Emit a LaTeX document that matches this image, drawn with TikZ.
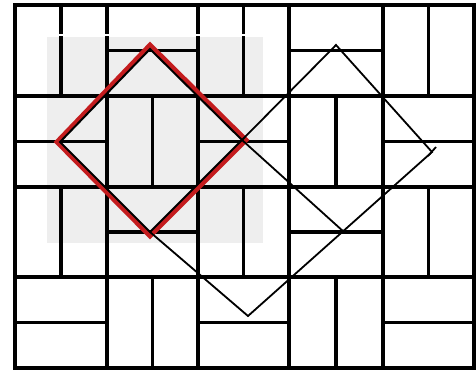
\documentclass[tikz,border=0pt]{standalone}
\begin{document}
\begin{tikzpicture}[x=0.5pt,y=-0.5pt,
  gridline/.style={line width=1.6pt,line cap=rect},
  frameline/.style={line width=1.8pt},
  thinline/.style={line width=0.9pt,line join=miter},
  redline/.style={line width=2.4pt,draw={rgb,255:red,196;green,28;blue,30},line join=miter},
  blackred/.style={line width=1pt,line join=miter}]
\useasboundingbox (0,0) rectangle (476,370);
\fill[white] (0,0) rectangle (476,370);
% gray pasted square
\fill[gray!13] (47,37) rectangle (263,243);
% grid
\def\xs{{15,107,198,289,383,474}}
\def\ys{{5,96,187,277,368}}
\foreach \r in {0,...,3}{
  \foreach \c in {0,...,4}{
    \pgfmathsetmacro{\xa}{\xs[\c]}
    \pgfmathsetmacro{\xb}{\xs[\c+1]}
    \pgfmathsetmacro{\ya}{\ys[\r]}
    \pgfmathsetmacro{\yb}{\ys[\r+1]}
    \pgfmathtruncatemacro{\myparity}{mod(\r+\c,2)}
    \ifnum\myparity=0
      \draw[gridline] ({(\xa+\xb)/2},\ya) -- ({(\xa+\xb)/2},\yb);
    \else
      \draw[gridline] (\xa,{(\ya+\yb)/2}) -- (\xb,{(\ya+\yb)/2});
    \fi
  }
}
\foreach \x in {107,198,289,383}{\draw[gridline] (\x,5) -- (\x,368);}
\foreach \y in {96,187,277}{\draw[gridline] (15,\y) -- (474,\y);}
\draw[frameline] (15,5) rectangle (474,368);
% white gap at top of pasted square
\draw[white,line width=1.3pt] (47,35) -- (263,35);
% diamond vertices
\coordinate (L) at (60,142);
\coordinate (T) at (150,49);
\coordinate (R) at (242,140);
\coordinate (B) at (150,232);
\coordinate (T2) at (336,45);
\coordinate (R2) at (432,152);
\coordinate (B2) at (344,232);
\coordinate (B3) at (248,316);
% red diamond
\draw[redline] (57,142) -- (150,45) -- (246,140) -- (150,236) -- cycle;
\draw[blackred] (L) -- (T) -- (R) -- (B) -- cycle;
% black tilted squares
\draw[thinline] (R) -- (T2) -- (R2) -- (B3) -- (B);
\draw[thinline] (R) -- (B2);
\draw[thinline] (428,156) -- (436,147);
\end{tikzpicture}
\end{document}
